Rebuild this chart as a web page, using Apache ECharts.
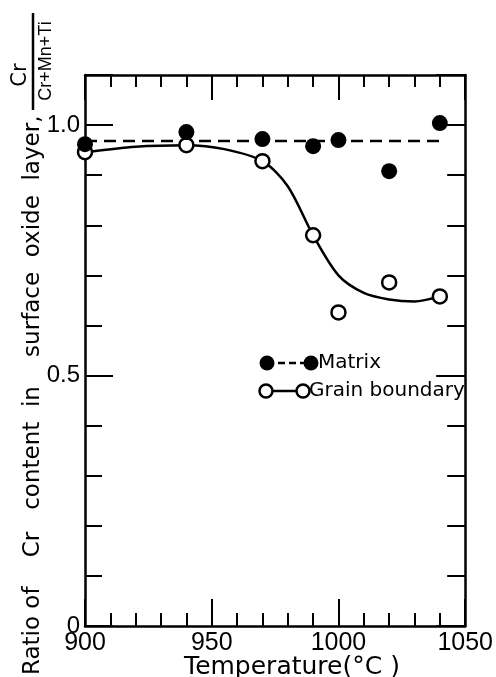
<!DOCTYPE html>
<html>
<head>
<meta charset="utf-8">
<script src="https://cdn.jsdelivr.net/npm/echarts@6/dist/echarts.min.js"></script>
<style>
	html, body { margin: 0; padding: 0; background: #fff; }
	#main { width: 496px; height: 677px; }
</style>
</head>
<body>
<div id="main"></div>
<script>
	// measured points
	var temps = [900, 940, 970, 990, 1000, 1020, 1040];
	var matrixRatio = [0.962, 0.986, 0.972, 0.958, 0.97, 0.908, 1.004];
	var grainRatio = [0.946, 0.96, 0.928, 0.78, 0.626, 0.686, 0.658];

	// dashed level line for matrix
	var matrixLineTemps = [900, 1040];
	var matrixLineRatio = [0.968, 0.968];

	// fitted curve for grain boundary
	var curveTemps = [900, 920, 940, 955, 970, 980, 990, 1000, 1010, 1020, 1030, 1040];
	var curveRatio = [0.946, 0.957, 0.96, 0.952, 0.928, 0.878, 0.78, 0.70, 0.665, 0.652, 0.648, 0.658];

	var xLabels = [900, 950, 1000, 1050];
	var yLabels = [0, 0.5, 1.0];

	function pairs(xs, ys) {
		var out = [];
		for (var i = 0; i < xs.length; i++) {
			out.push([xs[i], ys[i]]);
		}
		return out;
	}

	var font = '"Liberation Sans", Arial, sans-serif';
	var wide = '"DejaVu Sans", sans-serif';
	var black = '#000';

	var myChart = echarts.init(document.getElementById('main'));

	var option = {
		animation: false,
		backgroundColor: '#fff',
		grid: {
			left: 85,
			right: 26,
			top: 75,
			bottom: 51
		},
		xAxis: [{
			type: 'value',
			min: 900,
			max: 1050,
			interval: 50,
			axisLine: { show: true, lineStyle: { color: black, width: 2.5 } },
			axisTick: { show: true, inside: true, length: 27, lineStyle: { color: black, width: 2 } },
			minorTick: { show: true, splitNumber: 5, length: 13, lineStyle: { color: black, width: 2 } },
			splitLine: { show: false },
			axisLabel: {
				margin: 5,
				color: black,
				fontFamily: font,
				fontSize: 25,
				formatter: function(v) {
					return xLabels.indexOf(v) >= 0 ? String(v) : '';
				}
			}
		}, {
			type: 'value',
			position: 'top',
			min: 900,
			max: 1050,
			interval: 50,
			axisLine: { show: true, onZero: false, lineStyle: { color: black, width: 2.5 } },
			axisTick: { show: true, inside: true, length: 25, lineStyle: { color: black, width: 2 } },
			minorTick: { show: true, splitNumber: 5, length: 12, lineStyle: { color: black, width: 2 } },
			splitLine: { show: false },
			axisLabel: { show: false }
		}],
		yAxis: [{
			type: 'value',
			min: 0,
			max: 1.1,
			interval: 0.5,
			axisLine: { show: true, lineStyle: { color: black, width: 2.5 } },
			axisTick: { show: true, inside: true, length: 28, lineStyle: { color: black, width: 2 } },
			minorTick: { show: true, splitNumber: 5, length: 17, lineStyle: { color: black, width: 2 } },
			splitLine: { show: false },
			axisLabel: {
				margin: 5,
				color: black,
				fontFamily: font,
				fontSize: 24,
				showMaxLabel: false,
				formatter: function(v) {
					if (v === 0) return '0';
					return yLabels.indexOf(v) >= 0 ? v.toFixed(1) : '';
				}
			}
		}, {
			type: 'value',
			position: 'right',
			min: 0,
			max: 1.1,
			interval: 0.5,
			axisLine: { show: true, onZero: false, lineStyle: { color: black, width: 2.5 } },
			axisTick: { show: true, inside: true, length: 29, lineStyle: { color: black, width: 2 } },
			minorTick: { show: true, splitNumber: 5, length: 18, lineStyle: { color: black, width: 2 } },
			splitLine: { show: false },
			axisLabel: { show: false }
		}],
		series: [{
			name: 'Matrix line',
			type: 'line',
			data: pairs(matrixLineTemps, matrixLineRatio),
			showSymbol: false,
			lineStyle: { color: black, width: 2.5, type: [12, 7] },
			z: 2
		}, {
			name: 'Grain curve',
			type: 'line',
			data: pairs(curveTemps, curveRatio),
			smooth: 0.3,
			showSymbol: false,
			lineStyle: { color: black, width: 2.5 },
			z: 2
		}, {
			name: 'Grain boundary',
			type: 'scatter',
			data: pairs(temps, grainRatio),
			symbol: 'circle',
			symbolSize: 14,
			itemStyle: { color: '#fff', borderColor: black, borderWidth: 2.5, opacity: 1 },
			z: 4
		}, {
			name: 'Matrix',
			type: 'scatter',
			data: pairs(temps, matrixRatio),
			symbol: 'circle',
			symbolSize: 16,
			itemStyle: { color: black, opacity: 1 },
			z: 5
		}],
		graphic: [
			// y axis title
			{
				type: 'text',
				x: 33,
				y: 675,
				rotation: Math.PI / 2,
				style: {
					text: 'Ratio of    Cr   content  in    surface  oxide  layer,',
					font: '23px ' + wide,
					fill: black,
					align: 'left',
					verticalAlign: 'middle'
				}
			},
			{
				type: 'text',
				x: 21,
				y: 75,
				rotation: Math.PI / 2,
				style: {
					text: 'Cr',
					font: '21px ' + wide,
					fill: black,
					align: 'center',
					verticalAlign: 'middle'
				}
			},
			{
				type: 'line',
				shape: { x1: 33, y1: 110, x2: 33, y2: 13 },
				style: { stroke: black, lineWidth: 2.5 }
			},
			{
				type: 'text',
				x: 46,
				y: 61,
				rotation: Math.PI / 2,
				style: {
					text: 'Cr+Mn+Ti',
					font: '18px ' + font,
					fill: black,
					align: 'center',
					verticalAlign: 'middle'
				}
			},
			// x axis title
			{
				type: 'text',
				x: 292,
				y: 667,
				style: {
					text: 'Temperature(°C )',
					font: '25px ' + wide,
					fill: black,
					align: 'center',
					verticalAlign: 'middle'
				}
			},
			// legend
			{
				type: 'line',
				shape: { x1: 267, y1: 363, x2: 311, y2: 363 },
				style: { stroke: black, lineWidth: 2.5, lineDash: [7, 4] }
			},
			{ type: 'circle', shape: { cx: 267, cy: 363, r: 7.5 }, style: { fill: black } },
			{ type: 'circle', shape: { cx: 311, cy: 363, r: 7.5 }, style: { fill: black } },
			{
				type: 'text',
				x: 318,
				y: 363,
				style: { text: 'Matrix', font: '20px ' + wide, fill: black, align: 'left', verticalAlign: 'middle' }
			},
			{
				type: 'line',
				shape: { x1: 266, y1: 391, x2: 303, y2: 391 },
				style: { stroke: black, lineWidth: 2.5 }
			},
			{ type: 'circle', shape: { cx: 266, cy: 391, r: 6.5 }, style: { fill: '#fff', stroke: black, lineWidth: 2.5 }, z: 10 },
			{ type: 'circle', shape: { cx: 303, cy: 391, r: 6.5 }, style: { fill: '#fff', stroke: black, lineWidth: 2.5 }, z: 10 },
			{
				type: 'text',
				x: 309,
				y: 391,
				style: { text: 'Grain boundary', font: '20px ' + wide, fill: black, align: 'left', verticalAlign: 'middle' }
			}
		]
	};

	myChart.setOption(option);
</script>
</body>
</html>
